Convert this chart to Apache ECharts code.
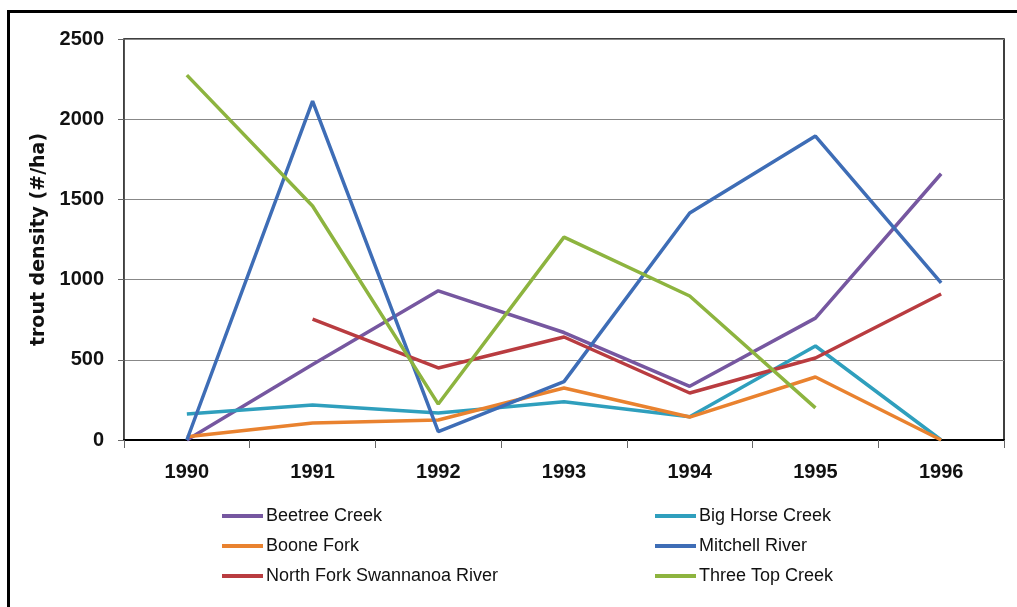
<!DOCTYPE html>
<html>
<head>
<meta charset="utf-8">
<script src="https://cdn.jsdelivr.net/npm/echarts@6/dist/echarts.min.js"></script>
<style>
html,body{margin:0;padding:0;background:#fff;}
#chart{width:1017px;height:607px;}
</style>
</head>
<body>
<div id="chart"></div>
<script>
var years = ['1990','1991','1992','1993','1994','1995','1996'];
var yTicks = [0, 500, 1000, 1500, 2000, 2500];
var beetreeCreek = [0, 470, 930, 670, 335, 760, 1660];
var bigHorseCreek = [162, 218, 168, 239, 145, 586, 0];
var booneFork = [20, 106, 125, 324, 143, 393, 0];
var mitchellRiver = [0, 2113, 52, 364, 1415, 1895, 979];
var northForkSwannanoa = [null, 754, 449, 642, 293, 511, 910];
var threeTopCreek = [2275, 1459, 224, 1265, 898, 200, null];

var seriesNames = ['Beetree Creek','Big Horse Creek','Boone Fork','Mitchell River','North Fork Swannanoa River','Three Top Creek'];
var seriesData = [beetreeCreek, bigHorseCreek, booneFork, mitchellRiver, northForkSwannanoa, threeTopCreek];
var colors = ['#7657a0','#2f9fbd','#e9822f','#3e6db6','#b93c40','#8db43f'];

var chart = echarts.init(document.getElementById('chart'), null, {renderer:'canvas'});
var fam = '"Liberation Sans", Arial, sans-serif';

var series = seriesNames.map(function(n, i){
  return {
    name: n, type: 'line', data: seriesData[i],
    symbol: 'none', smooth: false, connectNulls: false,
    lineStyle: {width: 3.5, color: colors[i]},
    itemStyle: {color: colors[i]}
  };
});

function legendFor(names, left){
  return {
    orient: 'vertical', left: left, top: 502, itemGap: 12,
    icon: 'rect', itemWidth: 41, itemHeight: 4,
    textStyle: {fontFamily: fam, fontSize: 18, color: '#111', padding: [0,0,0,-2]},
    data: names
  };
}

chart.setOption({
  animation: false,
  backgroundColor: '#fff',
  color: colors,
  grid: {left: 124, right: 13, top: 39, bottom: 167, show: true, borderColor: '#000', borderWidth: 1.5, containLabel: false},
  legend: [
    legendFor(['Beetree Creek','Boone Fork','North Fork Swannanoa River'], 217),
    legendFor(['Big Horse Creek','Mitchell River','Three Top Creek'], 650)
  ],
  xAxis: {
    type: 'category', data: years, boundaryGap: true,
    axisLine: {lineStyle: {color: '#000', width: 2}},
    axisTick: {show: true, length: 8, lineStyle: {color: '#666'}},
    axisLabel: {fontFamily: fam, fontWeight: 'bold', fontSize: 20, color: '#111', margin: 22}
  },
  yAxis: {
    type: 'value', min: yTicks[0], max: yTicks[yTicks.length-1], interval: 500,
    name: 'trout density (#/ha)', nameLocation: 'middle', nameGap: 64,
    nameTextStyle: {fontFamily: '"DejaVu Sans", sans-serif', fontWeight: 'bold', fontSize: 19, color: '#111'},
    axisLine: {show: true, lineStyle: {color: '#555', width: 1}},
    axisTick: {show: true, length: 6, lineStyle: {color: '#666'}},
    splitLine: {lineStyle: {color: '#888', width: 1}},
    axisLabel: {fontFamily: fam, fontWeight: 'bold', fontSize: 20, color: '#111', margin: 20,
      formatter: function(v){ return String(v); }}
  },
  graphic: [{
    type: 'rect', left: 6, top: 9, silent: true, z: 100,
    shape: {x: 0, y: 0, width: 1030, height: 620},
    style: {fill: 'none', stroke: '#000', lineWidth: 3}
  }],
  series: series
});
</script>
</body>
</html>
